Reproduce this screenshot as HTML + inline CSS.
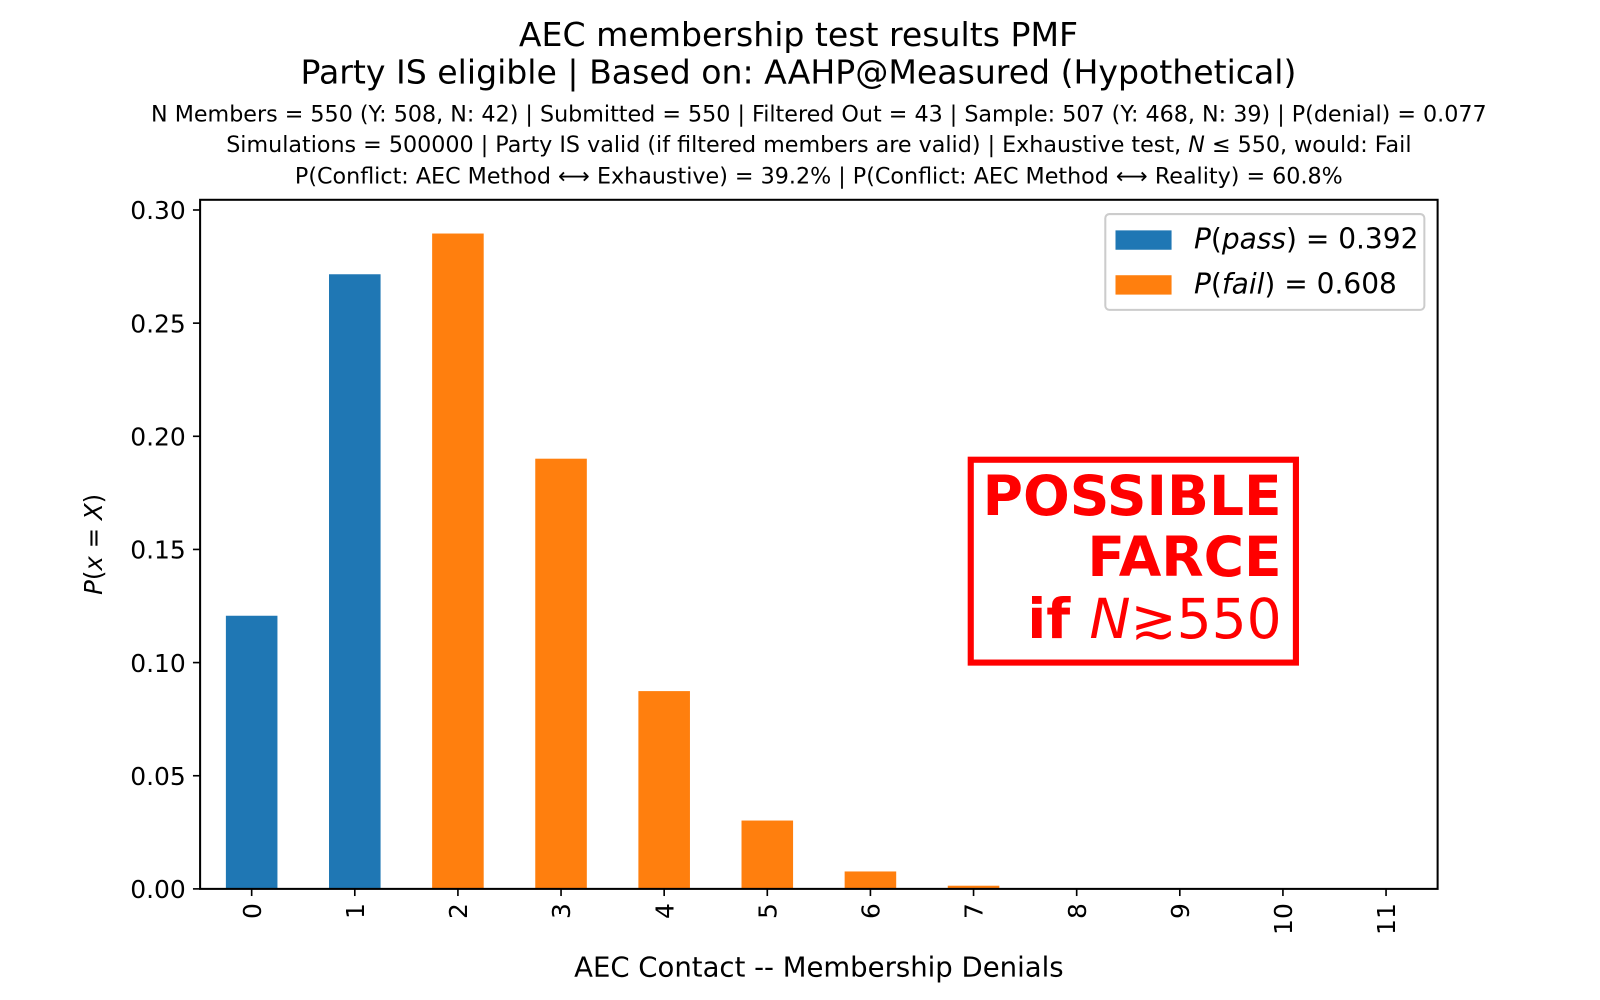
<!DOCTYPE html>
<html><head><meta charset="utf-8"><style>
body{margin:0;background:#fff}
svg{display:block;font-family:"DejaVu Sans","Liberation Sans",sans-serif}
</style></head><body>
<svg id="chart" width="1600" height="1000" viewBox="0 0 1569 981" xmlns="http://www.w3.org/2000/svg">
<text x="783" y="45" font-size="32.5" text-anchor="middle">AEC membership test results PMF</text>
<text x="783" y="82" font-size="32.5" text-anchor="middle">Party IS eligible | Based on: AAHP@Measured (Hypothetical)</text>
<text x="803" y="119" font-size="21.8" text-anchor="middle">N Members = 550 (Y: 508, N: 42) | Submitted = 550 | Filtered Out = 43 | Sample: 507 (Y: 468, N: 39) | P(denial) = 0.077</text>
<text x="803" y="149" font-size="21.8" text-anchor="middle">Simulations = 500000 | Party IS valid (if filtered members are valid) | Exhaustive test, <tspan font-style="italic">N</tspan> ≤ 550, would: Fail</text>
<text x="803" y="180" font-size="21.8" text-anchor="middle">P(Conflict: AEC Method ⟷ Exhaustive) = 39.2% | P(Conflict: AEC Method ⟷ Reality) = 60.8%</text>
<g id="yticks"></g>
<g id="bars"></g>
<g id="xticks"></g>
<rect x="196" y="196" width="1214" height="676" fill="none" stroke="#000" stroke-width="2"/>
<text transform="translate(100,534) rotate(-90)" font-size="24" text-anchor="middle"><tspan font-style="italic">P</tspan>(<tspan font-style="italic">x</tspan> = <tspan font-style="italic">X</tspan>)</text>
<text x="803" y="958" font-size="27" text-anchor="middle">AEC Contact -- Membership Denials</text>
<g>
<rect x="1084" y="210" width="313" height="94" rx="4" fill="#fff" stroke="#ccc" stroke-width="2"/>
<rect x="1094" y="226" width="55" height="19" fill="#1f77b4"/>
<text x="1171" y="244" font-size="27.5"><tspan font-style="italic">P</tspan>(<tspan font-style="italic">pass</tspan>) = 0.392</text>
<rect x="1094" y="270" width="55" height="19" fill="#ff7f0e"/>
<text x="1171" y="288" font-size="27.5"><tspan font-style="italic">P</tspan>(<tspan font-style="italic">fail</tspan>) = 0.608</text>
</g>
<g fill="#ff0000">
<rect x="952" y="451" width="319" height="199" fill="none" stroke="#ff0000" stroke-width="6"/>
<text x="1257" y="505" font-size="54" font-weight="bold" text-anchor="end">POSSIBLE</text>
<text x="1257" y="565" font-size="54" font-weight="bold" text-anchor="end">FARCE</text>
<text x="1257" y="626" font-size="54" text-anchor="end"><tspan font-weight="bold">if </tspan><tspan font-style="italic">N</tspan>≳550</text>
</g>
</svg>
<script>
const categories = ["0","1","2","3","4","5","6","7","8","9","10","11"];
const probabilities = [0.1207,0.2716,0.2896,0.1901,0.0874,0.0302,0.0077,0.0014,0.0002,0.0,0.0,0.0];
const outcomes = ["pass","pass","fail","fail","fail","fail","fail","fail","fail","fail","fail","fail"];
const yTickValues = [0,0.05,0.10,0.15,0.20,0.25,0.30];
const yTickLabels = ["0.00","0.05","0.10","0.15","0.20","0.25","0.30"];

const NS="http://www.w3.org/2000/svg";
const L=196,R=1410,B=872,T=196;
const yMax=0.3,yPix=666;
function y(v){return B - v/yMax*yPix;}
const step=(R-L)/categories.length;
function x(i){return L+step*(i+0.5);}
const colors={pass:"#1f77b4",fail:"#ff7f0e"};
function mk(tag,attrs){const e=document.createElementNS(NS,tag);for(const k in attrs)e.setAttribute(k,attrs[k]);return e;}

const yg=document.getElementById("yticks");
yTickValues.forEach((v,i)=>{
  const t=mk("line",{x1:L-7,x2:L,y1:y(v),y2:y(v),stroke:"#000","stroke-width":1.6});
  
  
  yg.appendChild(t);
  const lb=mk("text",{x:L-14,y:y(v)+9,"font-size":24.5,"text-anchor":"end"});
  
  
  lb.textContent=yTickLabels[i];
  yg.appendChild(lb);
});
const bg=document.getElementById("bars");
const bw=step*0.5;
probabilities.forEach((p,i)=>{
  const r=mk("rect",{x:x(i)-bw/2,y:y(p),width:bw,height:B-y(p),fill:colors[outcomes[i]]});
  
  
  bg.appendChild(r);
});
const xg=document.getElementById("xticks");
categories.forEach((c,i)=>{
  const t=mk("line",{x1:x(i),x2:x(i),y1:B,y2:B+7,stroke:"#000","stroke-width":1.6});
  
  
  xg.appendChild(t);
  const lb=mk("text",{transform:"translate("+(x(i)+9)+","+(B+14)+") rotate(-90)","font-size":24.5,"text-anchor":"end"});
  
  
  lb.textContent=c;
  xg.appendChild(lb);
});
</script>
</body></html>
